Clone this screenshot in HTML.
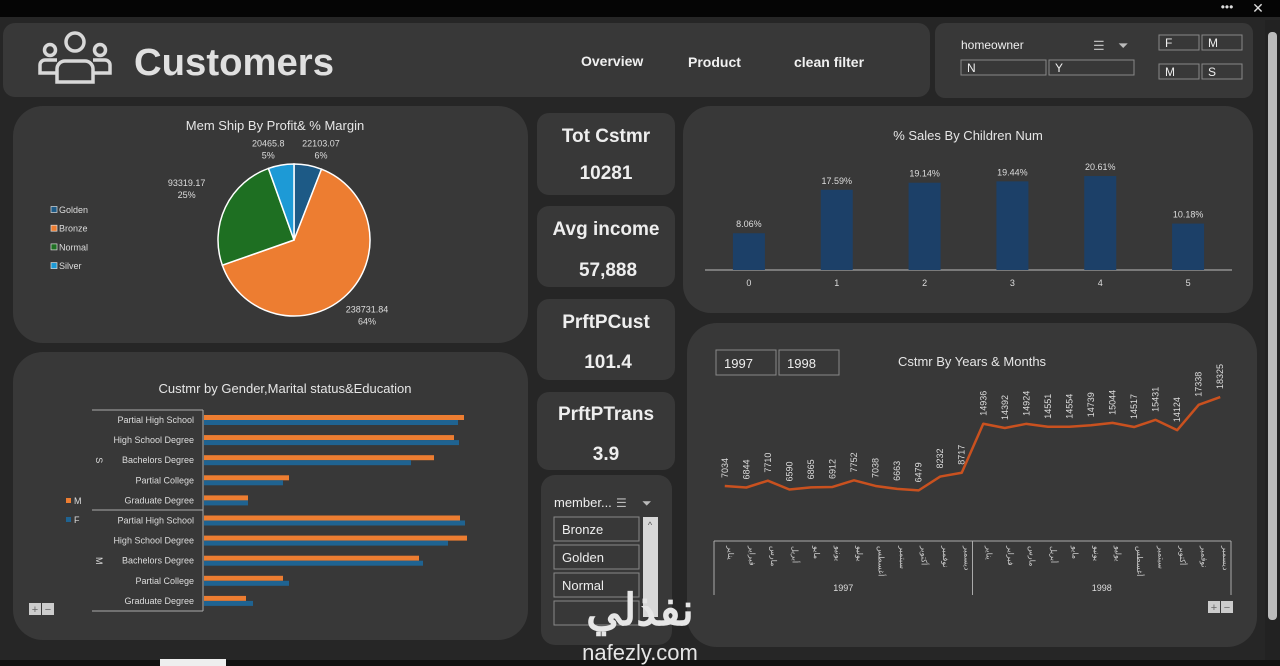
<!DOCTYPE html>
<html><head><meta charset="utf-8">
<style>
html,body{margin:0;padding:0;width:1280px;height:666px;overflow:hidden;background:#262626;font-family:"Liberation Sans","Noto Sans CJK SC",sans-serif;}
svg{position:absolute;left:0;top:0;}
text{font-family:"Liberation Sans","Noto Sans CJK SC",sans-serif;}
</style></head>
<body>
<svg id="s" width="1280" height="666" viewBox="0 0 1280 666">
<rect x="0" y="0" width="1280" height="17" fill="#050505"/>
<text x="1227" y="11" fill="#ddd" font-size="12" text-anchor="middle">•••</text>
<text x="1258" y="13" fill="#ddd" font-size="14" text-anchor="middle">✕</text>
<rect x="0" y="660" width="1280" height="6" fill="#111"/>
<rect x="160" y="659" width="66" height="7" fill="#eee"/>
<rect x="1265" y="20" width="15" height="640" fill="#222"/>
<rect x="1268" y="32" width="9" height="588" rx="4" fill="#bbb"/>

<rect x="3" y="23" width="927" height="74" rx="12" fill="#383838"/>
<g fill="none" stroke="#d8d8d8" stroke-width="3.5">
<circle cx="75" cy="42" r="9"/><circle cx="50" cy="50" r="5.5"/><circle cx="100" cy="50" r="5.5"/>
<path d="M57 82 v-13 a8 8 0 0 1 8 -8 h20 a8 8 0 0 1 8 8 v13 z"/>
<path d="M57 73 h-17 v-8 a5 5 0 0 1 5 -5 h12"/>
<path d="M93 73 h17 v-8 a5 5 0 0 0 -5 -5 h-12"/>
</g>
<text x="134" y="75" fill="#e0e0e0" font-size="38" font-weight="bold" textLength="200" lengthAdjust="spacingAndGlyphs">Customers</text>
<text x="581" y="66" fill="#f0f0f0" font-size="14" font-weight="bold">Overview</text>
<text x="688" y="67" fill="#f0f0f0" font-size="14" font-weight="bold">Product</text>
<text x="794" y="67" fill="#f0f0f0" font-size="14" font-weight="bold">clean filter</text>

<rect x="935" y="23" width="318" height="75" rx="10" fill="#383838"/>
<text x="961" y="49" fill="#eee" font-size="12">homeowner</text>
<text x="1093" y="50" fill="#bbb" font-size="13">☰</text>
<text x="1118" y="50" fill="#bbb" font-size="13">⏷</text>
<g fill="none" stroke="#888" stroke-width="1">
<rect x="961" y="60" width="85" height="15"/>
<rect x="1049" y="60" width="85" height="15"/>
<rect x="1159" y="35" width="40" height="15"/>
<rect x="1202" y="35" width="40" height="15"/>
<rect x="1159" y="64" width="40" height="15"/>
<rect x="1202" y="64" width="40" height="15"/>
</g>
<g fill="#eee" font-size="12">
<text x="967" y="72">N</text><text x="1055" y="72">Y</text>
<text x="1165" y="47">F</text><text x="1208" y="47">M</text>
<text x="1165" y="76">M</text><text x="1208" y="76">S</text>
</g>

<rect x="13" y="106" width="515" height="237" rx="30" fill="#383838"/>
<rect x="13" y="352" width="515" height="288" rx="30" fill="#383838"/>
<rect x="683" y="106" width="570" height="207" rx="28" fill="#383838"/>
<rect x="687" y="323" width="570" height="324" rx="30" fill="#383838"/>

<g>
<rect x="537" y="113" width="138" height="82" rx="12" fill="#383838"/>
<text x="606" y="142" fill="#eee" font-size="19" font-weight="bold" text-anchor="middle">Tot Cstmr</text>
<text x="606" y="179" fill="#eee" font-size="19" font-weight="bold" text-anchor="middle">10281</text></g>
<g>
<rect x="537" y="206" width="138" height="81" rx="12" fill="#383838"/>
<text x="606" y="235" fill="#eee" font-size="19" font-weight="bold" text-anchor="middle">Avg income</text>
<text x="608" y="276" fill="#eee" font-size="19" font-weight="bold" text-anchor="middle">57,888</text></g>
<g>
<rect x="537" y="299" width="138" height="81" rx="12" fill="#383838"/>
<text x="606" y="328" fill="#eee" font-size="19" font-weight="bold" text-anchor="middle">PrftPCust</text>
<text x="608" y="368" fill="#eee" font-size="19" font-weight="bold" text-anchor="middle">101.4</text></g>
<g>
<rect x="537" y="392" width="138" height="78" rx="12" fill="#383838"/>
<text x="606" y="420" fill="#eee" font-size="19" font-weight="bold" text-anchor="middle">PrftPTrans</text>
<text x="606" y="460" fill="#eee" font-size="19" font-weight="bold" text-anchor="middle">3.9</text></g>

<rect x="541" y="475" width="131" height="170" rx="14" fill="#383838"/>
<text x="554" y="507" fill="#eee" font-size="13">member...</text>
<text x="616" y="507" fill="#bbb" font-size="12">☰</text><text x="642" y="507" fill="#bbb" font-size="12">⏷</text>
<g fill="none" stroke="#888">
<rect x="554" y="517" width="85" height="24"/>
<rect x="554" y="545" width="85" height="24"/>
<rect x="554" y="573" width="85" height="24"/>
<rect x="554" y="601" width="85" height="24"/>
</g>
<g fill="#eee" font-size="13"><text x="562" y="534">Bronze</text><text x="562" y="562">Golden</text><text x="562" y="590">Normal</text></g>
<rect x="643" y="517" width="15" height="100" fill="#d8d8d8"/>
<text x="650" y="528" fill="#555" font-size="9" text-anchor="middle">^</text>

<text x="640" y="625" fill="#e6e6e6" font-size="44" font-weight="bold" text-anchor="middle">نفذلي</text>
<text x="640" y="660" fill="#e6e6e6" font-size="22" text-anchor="middle">nafezly.com</text>

<text x="275" y="130" fill="#e6e6e6" font-size="13" text-anchor="middle">Mem Ship By Profit&amp; % Margin</text>
<text x="285" y="393" fill="#e6e6e6" font-size="13" text-anchor="middle">Custmr by Gender,Marital status&amp;Education</text>
<text x="968" y="140" fill="#e6e6e6" font-size="13" text-anchor="middle">% Sales By Children Num</text>
<text x="972" y="366" fill="#e6e6e6" font-size="13" text-anchor="middle">Cstmr By Years &amp; Months</text>

<g fill="none" stroke="#888">
<rect x="716" y="350" width="60" height="25"/>
<rect x="779" y="350" width="60" height="25"/>
</g>
<text x="724" y="368" fill="#eee" font-size="13">1997</text><text x="787" y="368" fill="#eee" font-size="13">1998</text>

<g><rect x="29" y="603" width="12" height="12" fill="#ccc"/><rect x="42" y="603" width="12" height="12" fill="#ccc"/><text x="35" y="613" font-size="11" text-anchor="middle" fill="#666">+</text><text x="48" y="613" font-size="11" text-anchor="middle" fill="#666">−</text></g>
<g><rect x="1208" y="601" width="12" height="12" fill="#ccc"/><rect x="1221" y="601" width="12" height="12" fill="#ccc"/><text x="1214" y="611" font-size="11" text-anchor="middle" fill="#666">+</text><text x="1227" y="611" font-size="11" text-anchor="middle" fill="#666">−</text></g>

<g id="pie"></g><g id="bars"></g><g id="kids"></g><g id="line"></g>
</svg>
<script>
const pieLabels=["Golden","Bronze","Normal","Silver"];
const pieValues=[22103.07,238731.84,93319.17,20465.8];
const piePcts=["6%","64%","25%","5%"];
const eduCats=["Partial High School","High School Degree","Bachelors Degree","Partial College","Graduate Degree"];
const groups=["S","M"];
const maleVals=[1300,1250,1150,425,220,1280,1315,1075,395,210];
const femaleVals=[1270,1275,1035,395,220,1305,1220,1095,425,245];
const kidCats=["0","1","2","3","4","5"];
const kidVals=[8.06,17.59,19.14,19.44,20.61,10.18];
const months=["يناير","فبراير","مارس","أبريل","مايو","يونيو","يوليو","أغسطس","سبتمبر","أكتوبر","نوفمبر","ديسمبر"];
const years=["1997","1998"];
const custVals=[7034,6844,7710,6590,6865,6912,7752,7038,6663,6479,8232,8717,14936,14392,14924,14551,14554,14739,15044,14517,15431,14124,17338,18325];

const NS="http://www.w3.org/2000/svg";
function mk(parent,tag,attrs,txt){const e=document.createElementNS(NS,tag);for(const k in attrs)e.setAttribute(k,attrs[k]);if(txt!==undefined)e.textContent=txt;parent.appendChild(e);return e;}

(function(){
const g=document.getElementById('pie');const cx=294,cy=240,r=76;
const cols=["#1d5a86","#ed7d31","#1e6f22","#1d9ad6"];
const labR=[92,105,119,92];const labDx=[10,0,0,-10];
const total=pieValues.reduce((a,b)=>a+b,0);let a0=-Math.PI/2;
pieValues.forEach((v,i)=>{const a1=a0+v/total*2*Math.PI;
const x0=cx+r*Math.cos(a0),y0=cy+r*Math.sin(a0),x1=cx+r*Math.cos(a1),y1=cy+r*Math.sin(a1);
const p=mk(g,'path',{d:`M${cx} ${cy} L${x0} ${y0} A${r} ${r} 0 ${a1-a0>Math.PI?1:0} 1 ${x1} ${y1}Z`,fill:cols[i],stroke:'#fff','stroke-width':1.5});


const am=(a0+a1)/2;const lr=labR[i];
let lx=cx+lr*Math.cos(am)+labDx[i],ly=cy+lr*Math.sin(am);
const t1=mk(g,'text',{x:lx,y:ly-3,fill:'#ddd','font-size':9,'text-anchor':'middle'},String(pieValues[i]));


const t2=mk(g,'text',{x:lx,y:ly+9,fill:'#ddd','font-size':9,'text-anchor':'middle'},piePcts[i]);


a0=a1;});
pieLabels.forEach((l,i)=>{const y=210+i*18.7;
const rr=mk(g,'rect',{x:51,y:y-3.5,width:6,height:6,fill:cols[i],stroke:'#ddd','stroke-width':0.7});


const t=mk(g,'text',{x:59,y:y+3,fill:'#ddd','font-size':9},l);

});
})();

(function(){
const g=document.getElementById('bars');const x0=203,sc=0.2;
const yc=i=>420+i*20.1;
mk(g,'line',{x1:x0,y1:410,x2:x0,y2:611,stroke:'#aaa'});
[410,510,611].forEach(y=>mk(g,'line',{x1:92,y1:y,x2:x0,y2:y,stroke:'#aaa'}));
groups.forEach((gr,k)=>{const t=mk(g,'text',{x:0,y:0,fill:'#ddd','font-size':9,'text-anchor':'middle',transform:`translate(96,${yc(k*5+2)}) rotate(90)`},gr);


eduCats.forEach((c,j)=>{const i=k*5+j;
const tl=mk(g,'text',{x:194,y:yc(i)+3,fill:'#ddd','font-size':9,'text-anchor':'end'},c);


const bm=mk(g,'rect',{x:x0+1,y:yc(i)-5,width:maleVals[i]*sc,height:5,fill:'#ed7d31'});


const bf=mk(g,'rect',{x:x0+1,y:yc(i),width:femaleVals[i]*sc,height:5,fill:'#1f6391'});

});});
[["M","#ed7d31",501],["F","#1f6391",520]].forEach(([l,c,y])=>{
const r=mk(g,'rect',{x:66,y:y-3,width:5,height:5,fill:c});


const t=mk(g,'text',{x:74,y:y+3,fill:'#ddd','font-size':9},l);

});
})();

(function(){
const g=document.getElementById('kids');const base=270,sc=4.56,x0=705,w=527;
const step=w/kidCats.length;
mk(g,'line',{x1:x0,y1:base,x2:x0+w,y2:base,stroke:'#bbb'});
kidCats.forEach((c,i)=>{const cx=x0+step*(i+0.5);const h=kidVals[i]*sc;
const b=mk(g,'rect',{x:cx-16,y:base-h,width:32,height:h,fill:'#1c4068'});


const t=mk(g,'text',{x:cx,y:base-h-6,fill:'#ddd','font-size':9,'text-anchor':'middle'},kidVals[i].toFixed(2)+'%');


const xl=mk(g,'text',{x:cx,y:286,fill:'#ddd','font-size':9,'text-anchor':'middle'},c);

});
})();

(function(){
const g=document.getElementById('line');const xl=714,xr=1231;const n=custVals.length;const step=(xr-xl)/n;
const X=i=>xl+step*(i+0.5);const Y=v=>486-(v-7034)*0.00788;
const pts=custVals.map((v,i)=>X(i)+','+Y(v)).join(' ');
const pl=mk(g,'polyline',{points:pts,fill:'none',stroke:'#c9511f','stroke-width':2.5,'stroke-linejoin':'round'});


custVals.forEach((v,i)=>{const t=mk(g,'text',{x:0,y:0,fill:'#ddd','font-size':9,transform:`translate(${X(i)+3},${Y(v)-8}) rotate(-90)`},String(v));

});
mk(g,'line',{x1:xl,y1:541,x2:xr,y2:541,stroke:'#aaa'});
[xl,(xl+xr)/2,xr].forEach(x=>mk(g,'line',{x1:x,y1:541,x2:x,y2:595,stroke:'#aaa'}));
years.forEach((y,k)=>{months.forEach((m,j)=>{const i=k*12+j;
const t=mk(g,'text',{x:0,y:0,fill:'#ccc','font-size':8,transform:`translate(${X(i)+3},${546}) rotate(90)`},m);

});
const yt=mk(g,'text',{x:xl+(xr-xl)*(k*0.5+0.25),y:591,fill:'#ddd','font-size':9,'text-anchor':'middle'},y);

});
})();
</script>
</body></html>
